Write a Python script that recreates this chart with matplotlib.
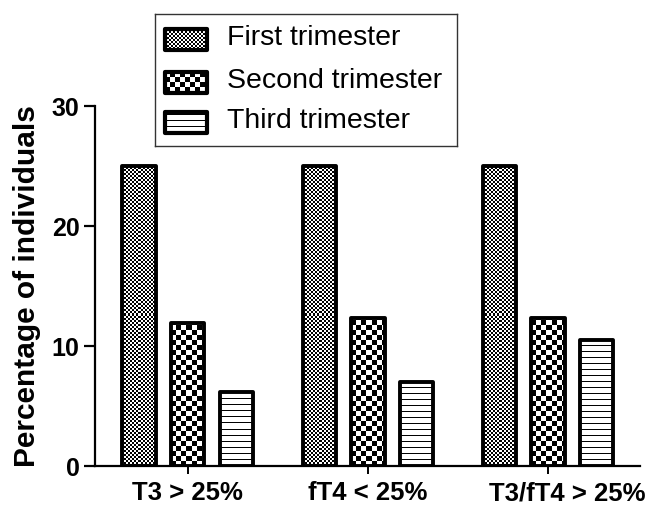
import numpy as np
import matplotlib
matplotlib.use("Agg")
import matplotlib.pyplot as plt
import matplotlib.transforms as mtransforms
from matplotlib.patches import Rectangle

plt.rcParams['font.family'] = ['Liberation Sans', 'DejaVu Sans']

# Data
categories = ['T3 > 25%', 'fT4 < 25%', 'T3/fT4 > 25%']
series = ['First trimester', 'Second trimester', 'Third trimester']
first = [25.0, 25.0, 25.0]
second = [11.9, 12.3, 12.3]
third = [6.2, 7.0, 10.5]
patterns = ['fine', 'coarse', 'lines']


def make_pattern(kind, w, h):
    # returns a grey-level array (1 = white, 0 = black) of h x w pixels
    yy, xx = np.mgrid[0:h, 0:w]
    if kind == 'fine':
        img = ((xx // 2 + yy // 2) % 2).astype(float)
    elif kind == 'coarse':
        img = ((xx // 5 + yy // 5) % 2).astype(float)
    else:
        img = np.ones((h, w))
        img[(yy % 6) == 0] = 0.0
    return img


def patterned_bar(ax, x0, x1, y0, y1, kind, lw=2.8):
    # bar outline plus bitmap fill clipped to it
    p0 = ax.transData.transform((x0, y0))
    p1 = ax.transData.transform((x1, y1))
    w = max(int(abs(p1[0] - p0[0])), 1)
    h = max(int(abs(p1[1] - p0[1])), 1)
    img = make_pattern(kind, w, h)
    im = ax.imshow(img, cmap='gray', vmin=0, vmax=1, extent=(x0, x1, y0, y1),
                   origin='lower', interpolation='nearest', aspect='auto', zorder=2)
    rect = Rectangle((x0, y0), x1 - x0, y1 - y0, facecolor='none',
                     edgecolor='black', linewidth=lw, zorder=3,
                     joinstyle='round')
    ax.add_patch(rect)
    im.set_clip_path(rect)


W, H = 647, 505
fig = plt.figure(figsize=(W / 100, H / 100), dpi=100)
ax = fig.add_axes([95 / W, 1 - 466 / H, (640 - 95) / W, (466 - 106) / H])
ax.set_xlim(-0.514, 2.51)
ax.set_ylim(0, 30)

x = np.arange(len(categories))
offset = 0.27
width = 0.185
values = [first, second, third]
for k, vals in enumerate(values):
    for i, v in enumerate(vals):
        c = x[i] + (k - 1) * offset
        patterned_bar(ax, c - width / 2, c + width / 2, 0, v, patterns[k])

ax.set_xlim(-0.514, 2.51)
ax.set_ylim(0, 30)

for s in ['top', 'right']:
    ax.spines[s].set_visible(False)
for s in ['left', 'bottom']:
    ax.spines[s].set_linewidth(1.6)
    ax.spines[s].set_zorder(4)

ax.set_yticks([0, 10, 20, 30])
ax.tick_params(axis='y', length=8, width=1.6, labelsize=18, pad=3)
ax.set_xticks(x)
ax.set_xticklabels(categories)
ax.tick_params(axis='x', length=6, width=1.4, labelsize=18.5, pad=5)
for lab in ax.get_xticklabels() + ax.get_yticklabels():
    lab.set_fontweight('bold')
# last category label sits a little to the right of its tick
last = ax.get_xticklabels()[-1]
last.set_transform(last.get_transform() +
                   mtransforms.ScaledTranslation(0.19, 0, fig.dpi_scale_trans))
ax.set_ylabel('Percentage of individuals', fontsize=21.5, fontweight='bold', labelpad=8)

# Legend box drawn in its own axes
lax = fig.add_axes([155 / W, 1 - 146 / H, (457 - 155) / W, (146 - 14) / H])
lax.set_xticks([])
lax.set_yticks([])
lax.set_xlim(155, 457)
lax.set_ylim(146, 14)
for s in lax.spines.values():
    s.set_linewidth(1.0)
    s.set_color('#333333')

swatch_y = [39, 82, 122.5]
for k, name in enumerate(series):
    yc = swatch_y[k]
    patterned_bar(lax, 165, 207, yc + 10.5, yc - 10.5, patterns[k], lw=3.0)
    lax.text(227, yc - 1, name, fontsize=20.5, va='center', ha='left')
lax.set_xlim(155, 457)
lax.set_ylim(146, 14)

fig.savefig('out.png', dpi=100)
